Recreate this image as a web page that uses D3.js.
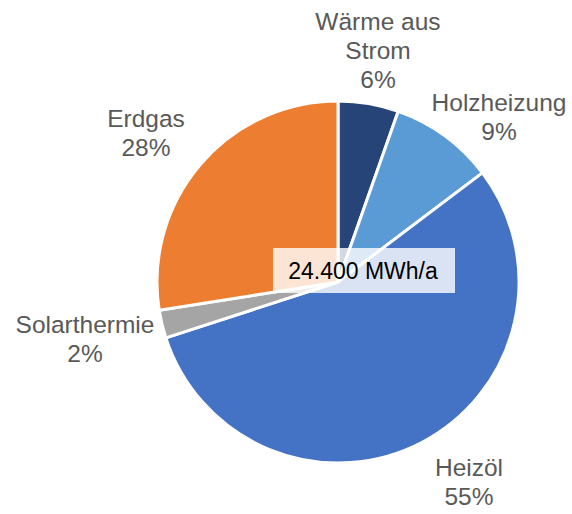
<!DOCTYPE html>
<html><head><meta charset="utf-8">
<script src="https://cdn.jsdelivr.net/npm/d3@7"></script>
<style>body{margin:0;background:#fff;} svg{display:block;}</style>
</head><body>
<svg id="chart" width="572" height="514"></svg>
<script>
const categories = ["Wärme aus Strom", "Holzheizung", "Heizöl", "Solarthermie", "Erdgas"];
const values = [5.4, 9.3, 55.3, 2.5, 27.5];
const percentLabels = ["6%", "9%", "55%", "2%", "28%"];
const labelLines = [["Wärme aus", "Strom"], ["Holzheizung"], ["Heizöl"], ["Solarthermie"], ["Erdgas"]];
const colors = ["#264478", "#5B9BD5", "#4472C4", "#A5A5A5", "#ED7D31"];
const totalLabel = "24.400 MWh/a";

const labelPos = [[378, 30], [499, 111], [469, 476], [85, 333], [146, 127]];

const svg = d3.select("#chart");
const cx = 338, cy = 282, r = 181;
const g = svg.append("g").attr("transform", `translate(${cx},${cy})`);
const pie = d3.pie().sort(null).value(d => d)(values);
const arc = d3.arc().innerRadius(0).outerRadius(r);
g.selectAll("path").data(pie).join("path")
  .attr("d", arc)
  .attr("fill", (d, i) => colors[i])
  .attr("stroke", "#fff").attr("stroke-width", 3).attr("stroke-linejoin", "round");

const lh = 28.8;
categories.forEach((c, i) => {
  const lines = labelLines[i].concat([percentLabels[i]]);
  const t = svg.append("text")
    .attr("text-anchor", "middle")
    .attr("font-family", "Liberation Sans, Arial, sans-serif")
    .attr("font-size", 24.5).attr("fill", "#595959");
  lines.forEach((l, j) => {
    t.append("tspan").attr("x", labelPos[i][0]).attr("y", labelPos[i][1] + j * lh).text(l);
  });
});

svg.append("rect").attr("x", 273).attr("y", 248).attr("width", 182).attr("height", 45)
  .attr("fill", "#fff").attr("fill-opacity", 0.8);
svg.append("text").attr("x", 363).attr("y", 279).attr("text-anchor", "middle")
  .attr("font-family", "Liberation Sans, Arial, sans-serif").attr("font-size", 23)
  .attr("fill", "#000").text(totalLabel);
</script>
</body></html>
